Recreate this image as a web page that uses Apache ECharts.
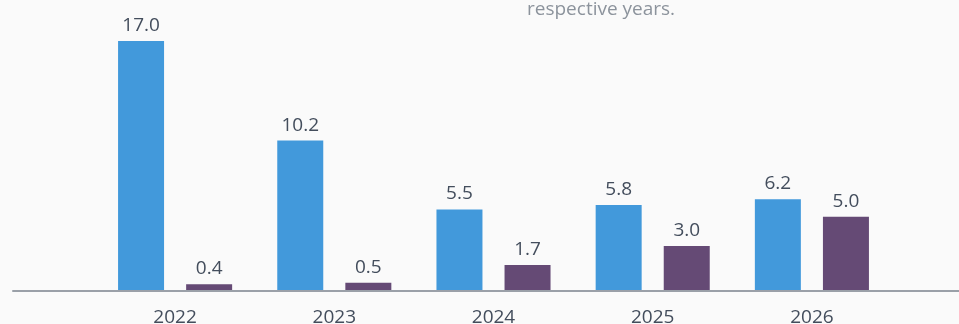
<!DOCTYPE html>
<html>
<head>
<meta charset="utf-8">
<style>
  html, body { margin: 0; padding: 0; background: #fafafa; }
  #chart { width: 959px; height: 324px; }
</style>
<script src="https://cdn.jsdelivr.net/npm/echarts@6/dist/echarts.min.js"></script>
</head>
<body>
<div id="chart"></div>
<script>
// Year categories and the two bar series
const years = ['2022', '2023', '2024', '2025', '2026'];
const primaryValues = [17.0, 10.2, 5.5, 5.8, 6.2];
const secondaryValues = [0.4, 0.5, 1.7, 3.0, 5.0];
const subtitleText = 'respective years.';

const FONT = '"Open Sans", "Noto Sans", sans-serif';
const labelStyle = {
  show: true,
  position: 'top',
  distance: 6,
  color: '#434d5c',
  fontSize: 19,
  fontFamily: FONT,
  formatter: p => p.value.toFixed(1)
};

const chart = echarts.init(document.getElementById('chart'), null, { renderer: 'canvas' });
chart.setOption({
  backgroundColor: '#fafafa',
  animation: false,
  title: {
    text: subtitleText,
    left: 522,
    top: -5,
    textStyle: { color: '#8c939c', fontSize: 19, fontWeight: 'normal', fontFamily: FONT }
  },
  grid: [
    { left: 95.5, right: 67.5, top: 41, bottom: 34, outerBoundsMode: 'none' },
    // full-width baseline
    { left: 13, right: 0, top: 200, bottom: 33, outerBoundsMode: 'none' }
  ],
  xAxis: [
    {
      type: 'category',
      data: years,
      gridIndex: 0,
      axisLine: { show: false },
      axisTick: { show: false },
      axisLabel: { color: '#434d5c', fontSize: 19, fontFamily: FONT, margin: 18 }
    },
    {
      type: 'value',
      gridIndex: 1,
      min: 0,
      max: 1,
      axisLine: { show: true, lineStyle: { color: '#9aa0a8', width: 2 } },
      axisTick: { show: false },
      axisLabel: { show: false },
      splitLine: { show: false }
    }
  ],
  yAxis: [
    { type: 'value', gridIndex: 0, min: 0, max: 17, show: false },
    { type: 'value', gridIndex: 1, show: false }
  ],
  series: [
    {
      name: 'primary',
      type: 'bar',
      data: primaryValues,
      barWidth: 46,
      barGap: '48%',
      itemStyle: { color: '#4299db' },
      label: labelStyle
    },
    {
      name: 'secondary',
      type: 'bar',
      data: secondaryValues,
      barWidth: 46,
      barGap: '48%',
      itemStyle: { color: '#654a75' },
      label: labelStyle
    }
  ]
});
</script>
</body>
</html>
